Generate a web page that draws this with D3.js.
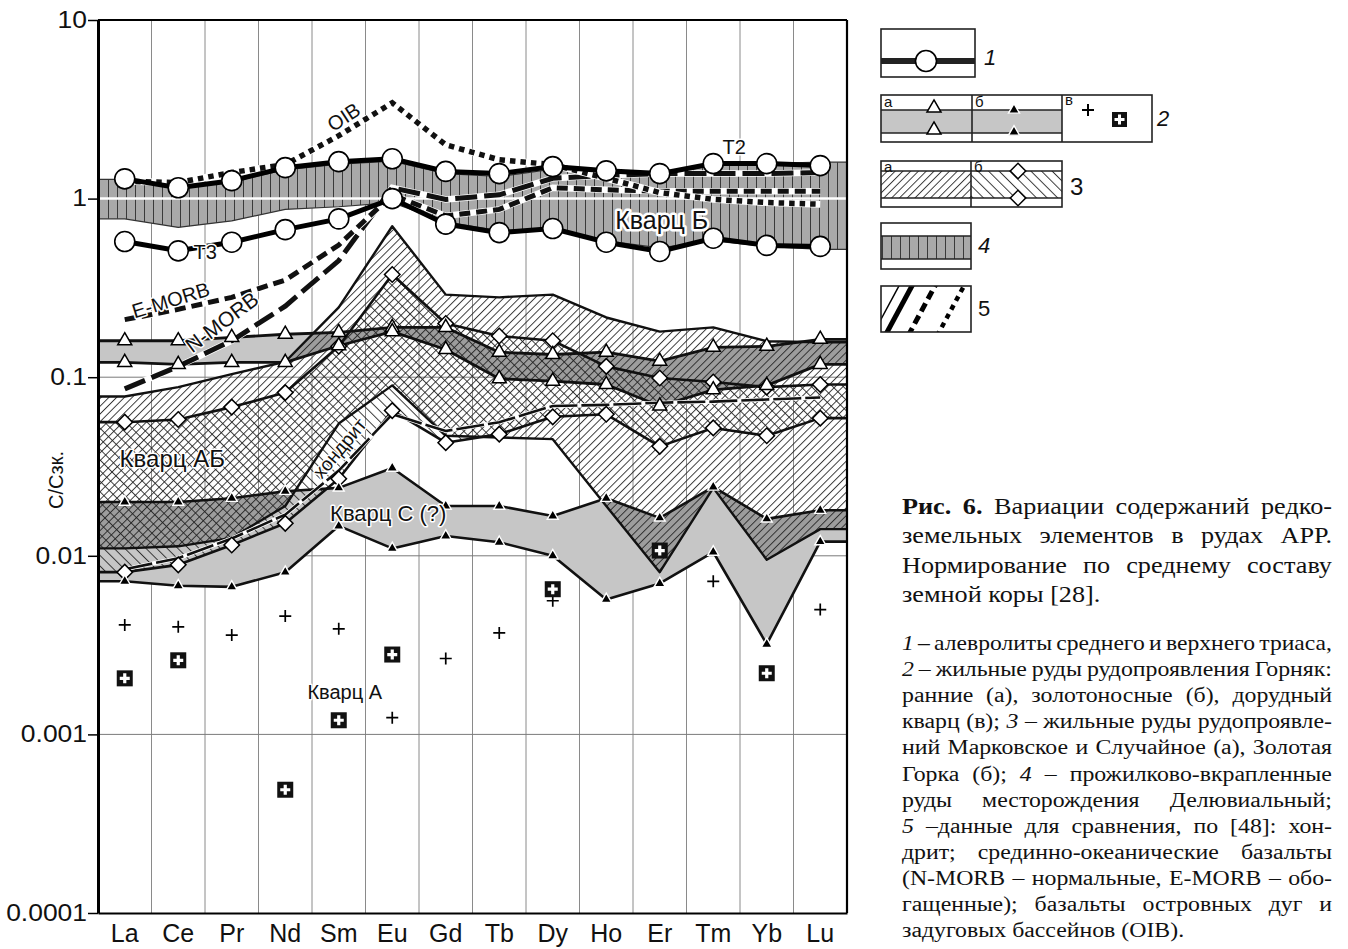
<!DOCTYPE html>
<html><head><meta charset="utf-8">
<script src="https://cdn.jsdelivr.net/npm/d3@7"></script>
<style>html,body{margin:0;padding:0;background:#fff;} svg{display:block;}</style>
</head><body>
<svg id="c" width="1348" height="949"></svg>
<script>
// ---------------- DATA ----------------
const elements = ["La","Ce","Pr","Nd","Sm","Eu","Gd","Tb","Dy","Ho","Er","Tm","Yb","Lu"];
const yTickValues = [0.0001, 0.001, 0.01, 0.1, 1, 10];
const yTickLabels = ["0.0001","0.001","0.01","0.1","1","10"];

// 1 - siltstones T2 / T3
const siltT2 = [1.29,1.15,1.26,1.49,1.61,1.67,1.42,1.38,1.51,1.43,1.38,1.57,1.57,1.53];
const siltT3 = [0.575,0.51,0.57,0.67,0.77,1.0,0.72,0.645,0.68,0.57,0.506,0.60,0.547,0.54];
// 4 - Кварц Б band
const kvarcBUpper = [1.28,1.15,1.24,1.45,1.56,1.62,1.38,1.33,1.46,1.39,1.33,1.55,1.57,1.6];
const kvarcBLower = [0.77,0.69,0.75,0.87,0.9,0.95,0.74,0.66,0.68,0.58,0.53,0.58,0.54,0.52];
// 2a - early ores (open triangles)
const earlyUpper = [0.16,0.16,0.167,0.174,0.178,0.19,0.19,0.138,0.134,0.138,0.123,0.147,0.149,0.163];
const earlyLower = [0.121,0.118,0.121,0.121,0.15,0.18,0.143,0.098,0.095,0.091,0.069,0.085,0.09,0.118];
// 2б - gold-bearing ores (filled triangles)
const goldUpper = [0.020,0.020,0.021,0.023,0.024,0.031,0.019,0.019,0.0167,0.021,0.0163,0.0243,0.0161,0.018];
const goldLower = [0.0072,0.0068,0.0067,0.0081,0.0147,0.011,0.0129,0.0119,0.0100,0.0057,0.0070,0.0105,0.0032,0.012];
// 3a - Марковское и Случайное
const markUpper = [0.078,0.088,0.104,0.122,0.246,0.70,0.29,0.28,0.29,0.216,0.18,0.19,0.159,0.157];
const markLower = [0.011,0.0113,0.0126,0.019,0.055,0.09,0.047,0.046,0.045,0.019,0.0081,0.024,0.0095,0.0141];
// 3б - Золотая Горка (diamonds)
const gorkaUpper = [0.056,0.058,0.068,0.082,0.149,0.376,0.2,0.17,0.16,0.115,0.099,0.094,0.088,0.091];
const gorkaLower = [0.0081,0.0089,0.0115,0.0152,0.027,0.065,0.043,0.048,0.06,0.062,0.041,0.052,0.047,0.059];
// 2в - pre-ore quartz
const preOrePlus = [0.0041,0.0040,0.0036,0.0046,0.0039,0.00124,0.00266,0.0037,0.0056,null,null,0.0072,null,0.0050];
const preOreSquare = [0.00206,0.0026,null,0.00049,0.0012,0.0028,null,null,0.0065,null,0.0107,null,0.0022,null];
// 5 - reference data
const chondrite = [0.0084,0.0097,0.0125,0.017,0.03,0.062,0.05,0.056,0.069,0.07,0.072,0.073,0.075,0.077];
const nMORB = [0.086,0.115,0.16,0.25,0.45,1.15,0.99,1.05,1.3,1.35,1.38,1.38,1.38,1.4];
const eMORB = [0.21,0.24,0.28,0.35,0.55,1.05,0.8,0.87,1.15,1.12,1.1,1.1,1.1,1.1];
const OIB = [1.25,1.23,1.4,1.55,2.25,3.44,2.0,1.65,1.55,1.3,1.08,0.99,0.95,0.93];

// caption
const capPara1 = [
  [{t:"Рис.",b:1},{t:"6.",b:1},{t:"Вариации"},{t:"содержаний"},{t:"редко-"}],
  [{t:"земельных"},{t:"элементов"},{t:"в"},{t:"рудах"},{t:"АРР."}],
  [{t:"Нормирование"},{t:"по"},{t:"среднему"},{t:"составу"}],
  [{t:"земной"},{t:"коры"},{t:"[28]."}]
];
const capPara2 = [
  [{t:"1",i:1},{t:"–"},{t:"алевролиты"},{t:"среднего"},{t:"и"},{t:"верхнего"},{t:"триаса,"}],
  [{t:"2",i:1},{t:"–"},{t:"жильные"},{t:"руды"},{t:"рудопроявления"},{t:"Горняк:"}],
  [{t:"ранние"},{t:"(а),"},{t:"золотоносные"},{t:"(б),"},{t:"дорудный"}],
  [{t:"кварц"},{t:"(в);"},{t:"3",i:1},{t:"–"},{t:"жильные"},{t:"руды"},{t:"рудопроявле-"}],
  [{t:"ний"},{t:"Марковское"},{t:"и"},{t:"Случайное"},{t:"(а),"},{t:"Золотая"}],
  [{t:"Горка"},{t:"(б);"},{t:"4",i:1},{t:"–"},{t:"прожилково-вкрапленные"}],
  [{t:"руды"},{t:"месторождения"},{t:"Делювиальный;"}],
  [{t:"5",i:1},{t:"–данные"},{t:"для"},{t:"сравнения,"},{t:"по"},{t:"[48]:"},{t:"хон-"}],
  [{t:"дрит;"},{t:"срединно-океанические"},{t:"базальты"}],
  [{t:"(N-MORB"},{t:"–"},{t:"нормальные,"},{t:"E-MORB"},{t:"–"},{t:"обо-"}],
  [{t:"гащенные);"},{t:"базальты"},{t:"островных"},{t:"дуг"},{t:"и"}],
  [{t:"задуговых"},{t:"бассейнов"},{t:"(OIB)."}]
];

// ---------------- SETUP ----------------
const sans = "'Liberation Sans', Arial, sans-serif";
const serif = "'Liberation Serif', 'Times New Roman', serif";
const svg = d3.select("#c");
const defs = svg.append("defs");

function hatch(id, angle, spacing){
  const p = defs.append("pattern").attr("id",id).attr("patternUnits","userSpaceOnUse")
    .attr("width",spacing).attr("height",10).attr("patternTransform",`rotate(${angle})`);
  p.append("line").attr("x1",0.5).attr("y1",0).attr("x2",0.5).attr("y2",10)
    .attr("stroke","#222").attr("stroke-width",0.9);
}
hatch("hF",45,5.5);   // "/"
hatch("hB",-45,7.5);  // "\"
const pv = defs.append("pattern").attr("id","vB").attr("patternUnits","userSpaceOnUse").attr("width",9).attr("height",10);
pv.append("rect").attr("width",9).attr("height",10).attr("fill","#a9a9a9");
pv.append("line").attr("x1",0.5).attr("x2",0.5).attr("y1",0).attr("y2",10).attr("stroke","#3a3a3a").attr("stroke-width",1);

const x = d3.scaleBand().domain(elements).range([98,847]);
const xc = e => x(e) + x.bandwidth()/2;
const y = d3.scaleLog().domain([1e-4,10]).range([913,20]);
const [X0,X1] = x.range();
const [Y1,Y0] = y.range();

defs.append("clipPath").attr("id","plotClip").append("rect")
  .attr("x",X0).attr("y",Y0).attr("width",X1-X0).attr("height",Y1-Y0);

const area = d3.area().x(d=>d.x).y0(d=>y(d.lo)).y1(d=>y(d.hi));
const line = d3.line().x(d=>d.x).y(d=>y(d.v));
const ptsEdge = arr => [{x:X0,v:arr[0]}, ...elements.map((e,i)=>({x:xc(e),v:arr[i]})), {x:X1,v:arr[arr.length-1]}];
const ptsIn = arr => elements.map((e,i)=>({x:xc(e),v:arr[i],e})).filter(d=>d.v!=null);
const bandPts = (lo,hi) => { const L=ptsEdge(lo), H=ptsEdge(hi); return L.map((d,i)=>({x:d.x,lo:d.v,hi:H[i].v})); };

const plot = svg.append("g").attr("clip-path","url(#plotClip)");

// grid
plot.append("g").selectAll("line").data(elements.slice(1)).join("line")
  .attr("x1",d=>x(d)).attr("x2",d=>x(d)).attr("y1",Y0).attr("y2",Y1)
  .attr("stroke","#8a8a8a").attr("stroke-width",1);
plot.append("g").selectAll("line").data([0.001,0.01,0.1]).join("line")
  .attr("x1",X0).attr("x2",X1).attr("y1",d=>y(d)).attr("y2",d=>y(d))
  .attr("stroke","#7a7a7a").attr("stroke-width",1);

// Кварц Б band
plot.append("path").attr("d",area(bandPts(kvarcBLower,kvarcBUpper))).attr("fill","url(#vB)");

// gray bands 2a, 2б
const area2a = area(bandPts(earlyLower,earlyUpper));
const area2b = area(bandPts(goldLower,goldUpper));
const area3a = area(bandPts(markLower,markUpper));
const area3b = area(bandPts(gorkaLower,gorkaUpper));
plot.append("path").attr("d",area2a).attr("fill","#c6c6c6");
plot.append("path").attr("d",area2b).attr("fill","#c6c6c6");
defs.append("clipPath").attr("id","clip3a").append("path").attr("d",area3a);
const dark = plot.append("g").attr("clip-path","url(#clip3a)");
dark.append("path").attr("d",area2a).attr("fill","#9d9d9d");
dark.append("path").attr("d",area2b).attr("fill","#9d9d9d");
// hatched bands 3a, 3б
plot.append("path").attr("d",area3a).attr("fill","url(#hF)");
plot.append("path").attr("d",area3b).attr("fill","url(#hB)");

// boundary lines
function bline(arr,w,col){
  plot.append("path").attr("d",line(ptsEdge(arr))).attr("fill","none")
    .attr("stroke",col||"#111").attr("stroke-width",w).attr("stroke-linejoin","round");
}
bline(kvarcBUpper,1.2,"#333"); bline(kvarcBLower,1.2,"#333");
bline(markUpper,2.4); bline(markLower,2.4);
bline(gorkaUpper,2.6); bline(gorkaLower,2.6);
bline(earlyUpper,2.8); bline(earlyLower,2.8);
bline(goldUpper,2.6); bline(goldLower,2.6);

// white gridline at 1
plot.append("line").attr("x1",X0).attr("x2",X1).attr("y1",y(1)).attr("y2",y(1))
  .attr("stroke","#fff").attr("stroke-width",2.5);

// reference dashed lines
function dashed(arr,w,dash){
  const d = line(ptsIn(arr));
  plot.append("path").attr("d",d).attr("fill","none").attr("stroke","#fff").attr("stroke-width",w+1.5);
  plot.append("path").attr("d",d).attr("fill","none").attr("stroke","#111").attr("stroke-width",w)
    .attr("stroke-dasharray",dash);
}
dashed(chondrite,2.6,"28,4");
dashed(nMORB,5,"22,7");
dashed(eMORB,5,"11,6");
dashed(OIB,5.5,"5.5,5");

// siltstone lines
[siltT2, siltT3].forEach(arr=>{
  plot.append("path").attr("d",line(ptsIn(arr))).attr("fill","none").attr("stroke","#000").attr("stroke-width",5);
  plot.append("g").selectAll("circle").data(ptsIn(arr)).join("circle")
    .attr("cx",d=>d.x).attr("cy",d=>y(d.v)).attr("r",10)
    .attr("fill","#fff").attr("stroke","#000").attr("stroke-width",1.6);
});

// markers
const triOpen = d3.symbol().type(d3.symbolTriangle).size(85)();
const triFill = d3.symbol().type(d3.symbolTriangle).size(52)();
const diam = d3.symbol().type(d3.symbolSquare).size(120)();
function markers(arr, path, fill, stroke, sw, rot){
  plot.append("g").selectAll("path").data(ptsIn(arr)).join("path")
    .attr("d",path).attr("transform",d=>`translate(${d.x},${y(d.v)}) rotate(${rot||0})`)
    .attr("fill",fill).attr("stroke",stroke).attr("stroke-width",sw);
}
markers(gorkaUpper,diam,"#fff","#000",1.5,45);
markers(gorkaLower,diam,"#fff","#000",1.5,45);
markers(earlyUpper,triOpen,"#fff","#000",1.5);
markers(earlyLower,triOpen,"#fff","#000",1.5);
markers(goldUpper,triFill,"#000","#fff",1.4);
markers(goldLower,triFill,"#000","#fff",1.4);
plot.append("g").selectAll("path").data(ptsIn(preOrePlus)).join("path")
  .attr("d","M-6,0H6M0,-6V6").attr("transform",d=>`translate(${d.x},${y(d.v)})`)
  .attr("stroke","#000").attr("stroke-width",1.7).attr("fill","none");
const sq = plot.append("g").selectAll("g").data(ptsIn(preOreSquare)).join("g")
  .attr("transform",d=>`translate(${d.x},${y(d.v)})`);
sq.append("rect").attr("x",-8).attr("y",-8).attr("width",16).attr("height",16).attr("fill","#111");
sq.append("path").attr("d","M-5,0H5M0,-5V5").attr("stroke","#fff").attr("stroke-width",3.2);

// labels
function label(txt, px, py, size, rot, halo, weight){
  const t = svg.append("text").attr("x",px).attr("y",py)
    .attr("transform",rot?`rotate(${rot},${px},${py})`:null)
    .attr("text-anchor","middle").attr("dominant-baseline","central")
    .attr("font-family",sans).attr("font-size",size).attr("fill","#111")
    .attr("font-weight",weight||"normal").text(txt);
  if (halo) t.attr("stroke","#fff").attr("stroke-width",halo).attr("paint-order","stroke").attr("stroke-linejoin","round");
  return t;
}
label("OIB", xc("Sm")+5, y(2.86), 20, -33, 3);
label("T2", xc("Tm")+21, y(1.95), 20, 0, 3);
label("T3", xc("Ce")+27, y(0.50), 20, 0, 3);
label("Кварц Б", xc("Er")+2, y(0.76), 25, 0, 5);
label("E-MORB", xc("La")+46, y(0.27), 20, -17, 3);
label("N-MORB", xc("Pr")-10, y(0.204), 21, -37, 3);
label("хондрит", xc("Sm")+1, y(0.040), 19, -50, 3);
label("Кварц АБ", xc("Ce")-6, y(0.0352), 24, 0, 3);
label("Кварц С (?)", xc("Eu")-4, y(0.0173), 22, 0, 3);
label("Кварц А", xc("Sm")+6, y(0.001726), 20, 0, 3);

// axes
const ya = svg.append("g").attr("transform",`translate(${X0},0)`)
  .call(d3.axisLeft(y).tickValues(yTickValues).tickFormat("").tickSize(10).tickSizeOuter(0));
ya.select(".domain").attr("stroke-width",3);
ya.selectAll(".tick line").attr("stroke-width",1.5);
ya.selectAll(".tick text").remove();
svg.append("g").selectAll("text").data(yTickValues).join("text")
  .attr("transform",d=>`translate(87,${y(d)}) scale(1.15,1)`)
  .attr("text-anchor","end").attr("dominant-baseline","central")
  .attr("font-family",sans).attr("font-size",23).attr("fill","#111")
  .text((d,i)=>yTickLabels[i]);
const xa = svg.append("g").attr("transform",`translate(0,${Y1})`)
  .call(d3.axisBottom(x).tickSize(0).tickSizeOuter(0).tickPadding(11));
xa.select(".domain").attr("stroke-width",2);
xa.selectAll("text").attr("font-family",sans).attr("font-size",25).attr("fill","#111");
svg.append("line").attr("x1",X0).attr("x2",X1).attr("y1",Y0).attr("y2",Y0).attr("stroke","#000").attr("stroke-width",2.2);
svg.append("line").attr("x1",X1).attr("x2",X1).attr("y1",Y0).attr("y2",Y1).attr("stroke","#000").attr("stroke-width",2.2);
svg.append("text").attr("transform","translate(56,480) rotate(-90)").attr("text-anchor","middle")
  .attr("dominant-baseline","central").attr("font-family",sans).attr("font-size",20).attr("fill","#111").text("С/Сзк.");

// ---------------- LEGEND ----------------
const lg = svg.append("g");
function box(x0,y0,w,h){ lg.append("rect").attr("x",x0).attr("y",y0).attr("width",w).attr("height",h).attr("fill","none").attr("stroke","#222").attr("stroke-width",1.6); }
function hl(x0,x1,yy,w){ lg.append("line").attr("x1",x0).attr("x2",x1).attr("y1",yy).attr("y2",yy).attr("stroke","#222").attr("stroke-width",w||1.5); }
function ltxt(t,px,py,size,italic,anchor){ lg.append("text").attr("x",px).attr("y",py).attr("dominant-baseline","central")
  .attr("text-anchor",anchor||"start").attr("font-family",sans).attr("font-size",size).attr("font-style",italic?"italic":"normal").attr("fill","#111").text(t); }
// 1
lg.append("rect").attr("x",881).attr("y",29).attr("width",94).attr("height",48).attr("fill","#fff");
hl(881,975,61,6);
box(881,29,94,48);
lg.append("circle").attr("cx",926).attr("cy",61).attr("r",10.5).attr("fill","#fff").attr("stroke","#000").attr("stroke-width",1.6);
ltxt("1",984,57,22,true);
// 2
lg.append("rect").attr("x",881).attr("y",110).attr("width",181).attr("height",23).attr("fill","#c6c6c6");
hl(881,1062,110); hl(881,1062,133);
box(881,95,271,47);
lg.append("line").attr("x1",972).attr("x2",972).attr("y1",95).attr("y2",142).attr("stroke","#222").attr("stroke-width",1.6);
lg.append("line").attr("x1",1062).attr("x2",1062).attr("y1",95).attr("y2",142).attr("stroke","#222").attr("stroke-width",1.6);
[108,130].forEach(yy=>{
  lg.append("path").attr("d",triOpen).attr("transform",`translate(934,${yy})`).attr("fill","#fff").attr("stroke","#000").attr("stroke-width",1.5);
  lg.append("path").attr("d",triFill).attr("transform",`translate(1014,${yy+2})`).attr("fill","#000").attr("stroke","#fff").attr("stroke-width",1.4);
});
ltxt("а",884,101,15); ltxt("б",975,101,15); ltxt("в",1065,99,15);
lg.append("path").attr("d","M-6,0H6M0,-6V6").attr("transform","translate(1088,110)").attr("stroke","#000").attr("stroke-width",2);
lg.append("rect").attr("x",1112).attr("y",112).attr("width",15).attr("height",15).attr("fill","#111");
lg.append("path").attr("d","M-5,0H5M0,-5V5").attr("transform","translate(1119.5,119.5)").attr("stroke","#fff").attr("stroke-width",3);
ltxt("2",1157,118,22,true);
// 3
lg.append("rect").attr("x",881).attr("y",171).attr("width",90).attr("height",27).attr("fill","url(#hF)");
lg.append("rect").attr("x",971).attr("y",171).attr("width",91).attr("height",27).attr("fill","url(#hB)");
hl(881,1062,171); hl(881,1062,198);
box(881,161,181,46);
lg.append("line").attr("x1",971).attr("x2",971).attr("y1",161).attr("y2",207).attr("stroke","#222").attr("stroke-width",1.6);
[171,198].forEach(yy=>lg.append("path").attr("d",diam).attr("transform",`translate(1018,${yy}) rotate(45)`).attr("fill","#fff").attr("stroke","#000").attr("stroke-width",1.5));
ltxt("а",884,166,15); ltxt("б",974,166,15);
ltxt("3",1070,186,24,false);
// 4
lg.append("rect").attr("x",881).attr("y",236).attr("width",90).attr("height",23).attr("fill","url(#vB)");
hl(881,971,236); hl(881,971,259);
box(881,223,90,46);
ltxt("4",978,245,22,true);
// 5
defs.append("clipPath").attr("id","lg5").append("rect").attr("x",881).attr("y",286).attr("width",90).attr("height",46);
const l5 = lg.append("g").attr("clip-path","url(#lg5)");
[[872,1.5,null],[885,5,null],[908,5,"9,5"],[937,4.5,"5,5"]].forEach(([x0,w,da])=>{
  l5.append("line").attr("x1",x0).attr("y1",336).attr("x2",x0+28).attr("y2",284)
    .attr("stroke","#000").attr("stroke-width",w).attr("stroke-dasharray",da);
});
box(881,286,90,46);
ltxt("5",978,308,22,false);

// ---------------- CAPTION ----------------
const capX = 902, capW = 430;
function measure(word,size,b,i){
  const t = svg.append("text").attr("font-family",serif).attr("font-size",size)
    .attr("font-weight",b?"bold":"normal").attr("font-style",i?"italic":"normal").text(word);
  const w = t.node().getComputedTextLength(); t.remove(); return w;
}
function capLine(words,yb,size,justify,stretch){
  const W = capW/stretch;
  const ws = words.map(w=>measure(w.t,size,w.b,w.i));
  const sum = d3.sum(ws);
  let gap = (justify && words.length>1) ? (W-sum)/(words.length-1) : size*0.25;
  let sc = 1;
  if (gap < size*0.18){ gap = size*0.18; sc = W/(sum+gap*(words.length-1)); }
  const g = svg.append("g").attr("transform",`translate(${capX},${yb}) scale(${stretch*sc},1)`);
  let cx = 0;
  words.forEach((w,k)=>{
    g.append("text").attr("x",cx).attr("y",0).attr("font-family",serif).attr("font-size",size)
      .attr("font-weight",w.b?"bold":"normal").attr("font-style",w.i?"italic":"normal")
      .attr("fill","#111").text(w.t);
    cx += ws[k]+gap;
  });
}
capPara1.forEach((ln,k)=>capLine(ln,514+k*29.3,23,k<capPara1.length-1,1.14));
capPara2.forEach((ln,k)=>capLine(ln,650+k*26.1,20,k<capPara2.length-1,1.19));
</script>
</body></html>
